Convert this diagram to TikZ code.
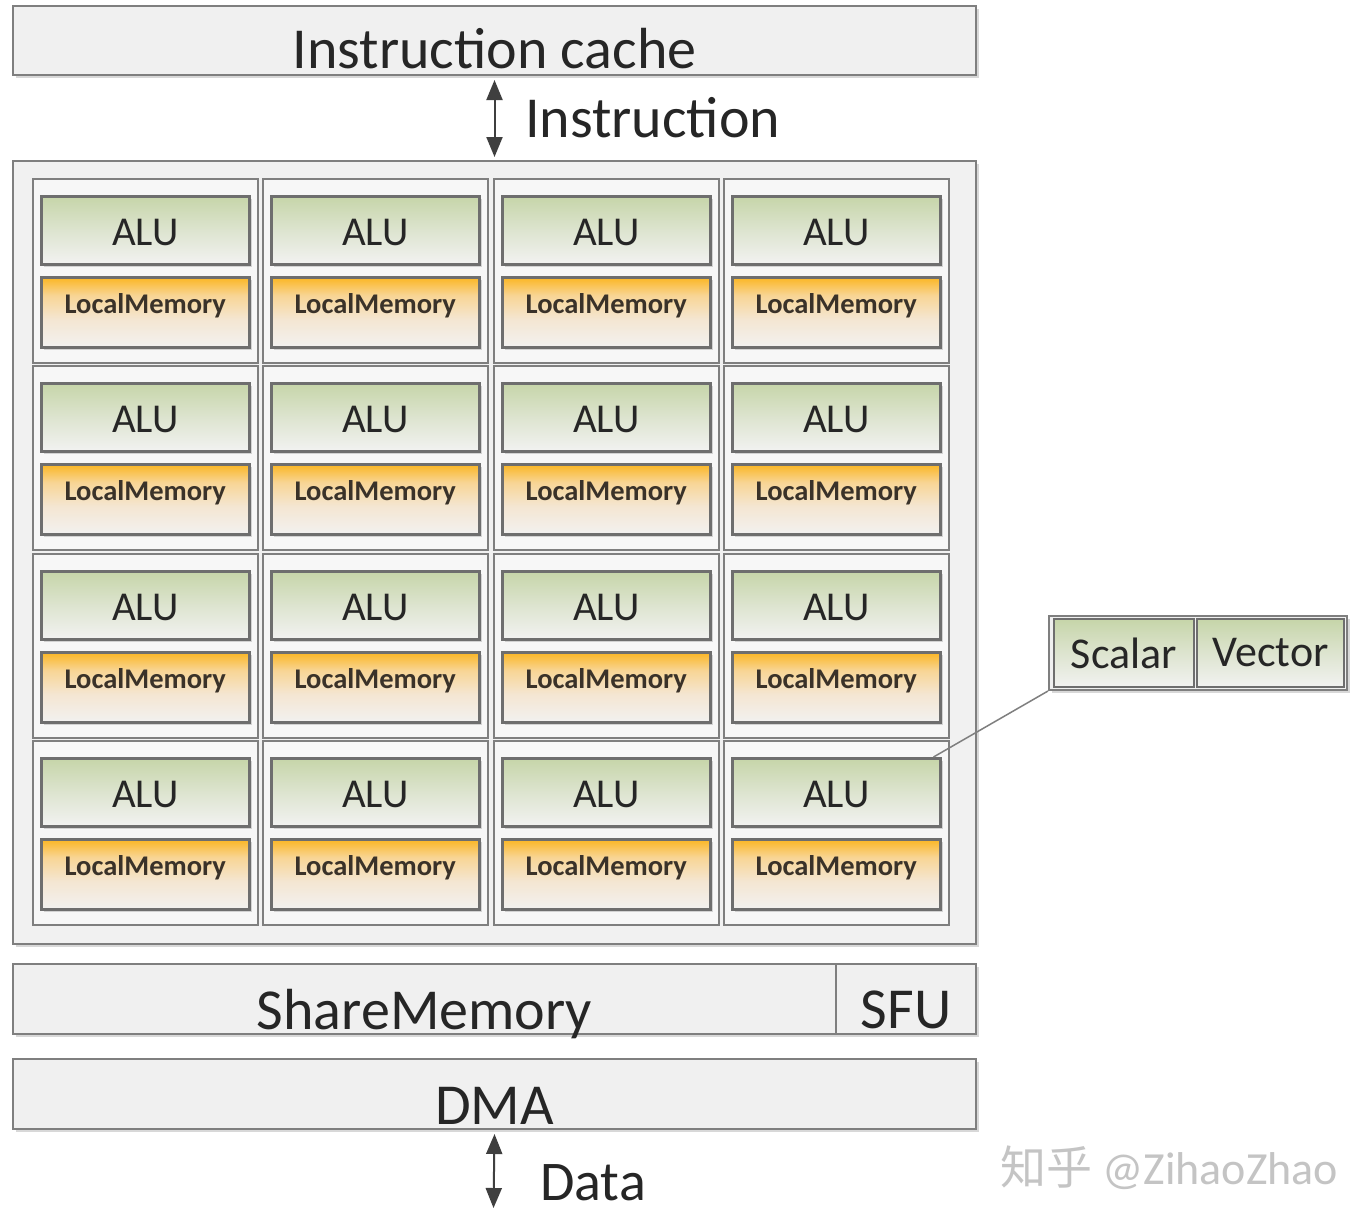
\documentclass[tikz,border=0pt]{standalone}
\usepackage{fontspec}
\setmainfont{Carlito}
\newfontfamily\cjk{Noto Sans CJK SC}
\usetikzlibrary{arrows.meta,shadows}

\definecolor{frame}{HTML}{7F7F7F}
\definecolor{darkframe}{HTML}{6E6E6E}
\definecolor{boxfill}{HTML}{F0F0F0}
\definecolor{mainfill}{HTML}{F1F1F1}
\definecolor{cellfill}{HTML}{F7F7F7}
\definecolor{alutop}{HTML}{C6D5A9}
\definecolor{alumid}{HTML}{DDE4CF}
\definecolor{alubot}{HTML}{F2F2F1}
\definecolor{lmtop}{HTML}{FBB623}
\definecolor{lmmid}{HTML}{F8D595}
\definecolor{lmlow}{HTML}{F4E6D2}
\definecolor{lmbot}{HTML}{F2F1F0}
\definecolor{txt}{HTML}{262626}
\definecolor{lmtxt}{HTML}{3A3229}
\definecolor{arrowc}{HTML}{3F3F3F}
\definecolor{wmark}{HTML}{C4C4C4}

\pgfdeclareverticalshading{alushade}{100bp}{color(0bp)=(alubot); color(25bp)=(alubot); color(50bp)=(alumid); color(75bp)=(alutop); color(100bp)=(alutop)}
\pgfdeclareverticalshading{lmshade}{100bp}{color(0bp)=(lmbot); color(25bp)=(lmbot); color(45bp)=(lmlow); color(62bp)=(lmmid); color(75bp)=(lmtop); color(100bp)=(lmtop)}

\tikzset{
  shad/.style={drop shadow={shadow xshift=3pt,shadow yshift=-3pt,opacity=.25,fill=black!60}},
  bigbox/.style={draw=frame, line width=2pt, fill=boxfill, anchor=north west, inner sep=0pt,
    font=\fontsize{58}{60}\selectfont, text=txt, shad},
  cellbox/.style={draw=frame, line width=2pt, fill=cellfill, anchor=north west, inner sep=0pt,
    minimum width=225pt, minimum height=184pt},
  alubox/.style={draw=darkframe, line width=2.5pt, shading=alushade, anchor=north west, inner sep=0pt,
    minimum width=208pt, minimum height=68pt, font=\fontsize{41}{43}\selectfont, text=txt,
    text height=30pt, text depth=0pt, shad},
  lmbox/.style={draw=darkframe, line width=2.5pt, shading=lmshade, anchor=north west, inner sep=0pt,
    minimum width=208pt, minimum height=70pt, font=\bfseries\fontsize{28.5}{30}\selectfont, text=lmtxt,
    text height=14pt, text depth=11pt, shad},
  svbox/.style={draw=darkframe, line width=2pt, shading=alushade, anchor=north west, inner sep=0pt,
    minimum height=68pt, font=\fontsize{44}{46}\selectfont, text=txt},
  arr/.style={{Triangle[width=16pt,length=20pt]}-{Triangle[width=16pt,length=20pt]},
    line width=2pt, draw=arrowc},
  lbl/.style={anchor=base west, inner sep=0pt, font=\fontsize{58}{60}\selectfont, text=txt},
}

\begin{document}
\begin{tikzpicture}[x=1pt,y=-1pt]
\useasboundingbox[fill=white] (0,0) rectangle (1372,1224);

% Instruction cache
\node[bigbox, minimum width=963pt, minimum height=69pt, text height=56pt, text depth=0pt]
  (icache) at (12,5) {Instruction cache};

% main array box
\node[bigbox, fill=mainfill, minimum width=963pt, minimum height=783pt] (main) at (12,160) {};

\draw[arr] ([yshift=-4pt]icache.south) -- ([yshift=3pt]main.north);
\node[lbl] (instr) at (525,137) {Instruction};

% cells
\foreach \r/\y in {1/178,2/365,3/553,4/740}{
  \foreach \c/\x in {1/32,2/262,3/493,4/723}{
    \node[cellbox] (cell-\r-\c) at (\x,\y) {};
    \node[alubox] (alu-\r-\c) at (\x+8,\y+17) {ALU};
    \node[lmbox] (lm-\r-\c) at (\x+8,\y+98) {LocalMemory};
  }
}

% Scalar / Vector
\node[draw=frame, line width=2pt, fill=boxfill, anchor=north west, inner sep=0pt,
  minimum width=298pt, minimum height=74pt, shad] (sv) at (1048,615) {};
\node[svbox, minimum width=140pt] (scalar) at (1053,618) {Scalar};
\node[svbox, minimum width=147pt] (vector) at (1196,618) {Vector};
\draw[draw=frame, line width=1.5pt] (sv.south west) -- ([xshift=-8pt]alu-4-4.north east);

% ShareMemory / SFU
\node[bigbox, minimum width=823pt, minimum height=70pt, text height=60pt, text depth=0pt]
  (share) at (12,963) {ShareMemory};
\node[bigbox, minimum width=140pt, minimum height=70pt, text height=58pt, text depth=0pt]
  (sfu) at (835,963) {SFU};

% DMA
\node[bigbox, minimum width=963pt, minimum height=70pt, text height=60pt, text depth=0pt]
  (dma) at (12,1058) {DMA};

\coordinate (dataend) at (493.5,1208);
\draw[arr] ([yshift=-4pt]dma.south) -- (dataend);
\node[lbl, font=\fontsize{56}{58}\selectfont] (data) at (540,1200) {Data};

% watermark
\node[anchor=base west, inner sep=0pt, text=wmark, font=\fontsize{46}{48}\selectfont] (wm)
  at (1000,1184) {{\cjk 知乎} @ZihaoZhao};
\end{tikzpicture}
\end{document}
